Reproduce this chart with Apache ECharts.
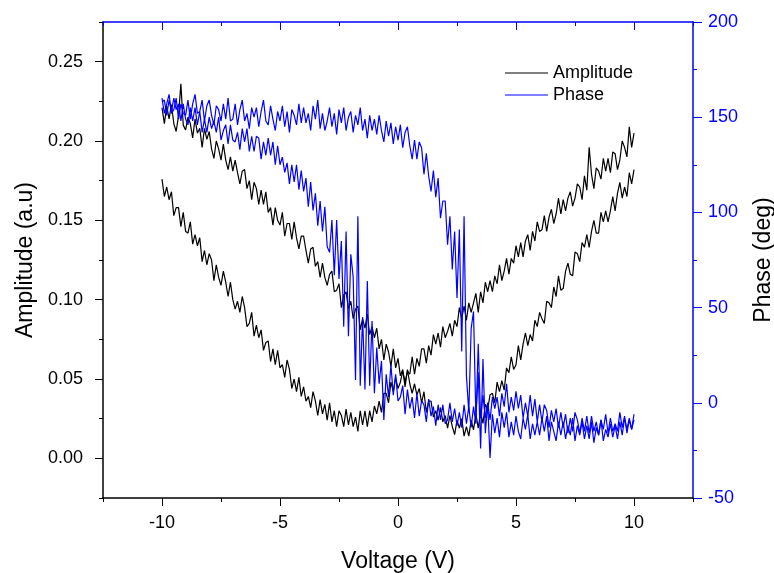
<!DOCTYPE html>
<html>
<head>
<meta charset="utf-8">
<script src="https://cdn.jsdelivr.net/npm/echarts@6/dist/echarts.min.js"></script>
<style>
  html, body { margin: 0; background: #fff; }
  #chart { width: 774px; height: 573px; }
</style>
</head>
<body>
<div id="chart"></div>
<script>
// voltage sweep points (V)
const voltage = [
  -10,-9.9,-9.8,-9.7,-9.6,-9.5,-9.4,-9.3,-9.2,-9.1,
  -9,-8.9,-8.8,-8.7,-8.6,-8.5,-8.4,-8.3,-8.2,-8.1,
  -8,-7.9,-7.8,-7.7,-7.6,-7.5,-7.4,-7.3,-7.2,-7.1,
  -7,-6.9,-6.8,-6.7,-6.6,-6.5,-6.4,-6.3,-6.2,-6.1,
  -6,-5.9,-5.8,-5.7,-5.6,-5.5,-5.4,-5.3,-5.2,-5.1,
  -5,-4.9,-4.8,-4.7,-4.6,-4.5,-4.4,-4.3,-4.2,-4.1,
  -4,-3.9,-3.8,-3.7,-3.6,-3.5,-3.4,-3.3,-3.2,-3.1,
  -3,-2.9,-2.8,-2.7,-2.6,-2.5,-2.4,-2.3,-2.2,-2.1,
  -2,-1.9,-1.8,-1.7,-1.6,-1.5,-1.4,-1.3,-1.2,-1.1,
  -1,-0.9,-0.8,-0.7,-0.6,-0.5,-0.4,-0.3,-0.2,-0.1,
  0,0.1,0.2,0.3,0.4,0.5,0.6,0.7,0.8,0.9,
  1,1.1,1.2,1.3,1.4,1.5,1.6,1.7,1.8,1.9,
  2,2.1,2.2,2.3,2.4,2.5,2.6,2.7,2.8,2.9,
  3,3.1,3.2,3.3,3.4,3.5,3.6,3.7,3.8,3.9,
  4,4.1,4.2,4.3,4.4,4.5,4.6,4.7,4.8,4.9,
  5,5.1,5.2,5.3,5.4,5.5,5.6,5.7,5.8,5.9,
  6,6.1,6.2,6.3,6.4,6.5,6.6,6.7,6.8,6.9,
  7,7.1,7.2,7.3,7.4,7.5,7.6,7.7,7.8,7.9,
  8,8.1,8.2,8.3,8.4,8.5,8.6,8.7,8.8,8.9,
  9,9.1,9.2,9.3,9.4,9.5,9.6,9.7,9.8,9.9,
  10];

// amplitude (a.u), sweep -10 -> +10
const ampForward = [
  .221,.211,.222,.214,.223,.211,.206,.216,.236,.210,
  .207,.215,.211,.202,.214,.205,.208,.196,.208,.201,
  .206,.195,.189,.200,.195,.188,.198,.188,.182,.190,
  .181,.188,.180,.173,.181,.182,.170,.175,.163,.174,
  .170,.160,.169,.160,.168,.155,.158,.147,.158,.150,
  .147,.155,.140,.148,.148,.138,.149,.139,.132,.140,
  .140,.131,.123,.132,.133,.121,.124,.114,.123,.114,
  .109,.116,.118,.105,.106,.110,.095,.103,.105,.094,
  .099,.088,.094,.096,.081,.088,.082,.091,.078,.083,
  .076,.082,.069,.075,.062,.072,.067,.058,.069,.057,
  .063,.052,.056,.045,.056,.047,.041,.047,.040,.044,
  .035,.042,.029,.036,.036,.026,.030,.024,.032,.023,
  .027,.019,.027,.020,.015,.024,.019,.025,.014,.020,
  .014,.024,.018,.028,.019,.029,.022,.034,.031,.040,
  .041,.035,.048,.042,.049,.043,.057,.054,.064,.056,
  .059,.071,.062,.072,.079,.071,.078,.074,.087,.083,
  .092,.088,.085,.099,.098,.095,.108,.102,.115,.106,
  .107,.118,.123,.116,.115,.130,.129,.124,.136,.133,
  .141,.133,.143,.150,.142,.142,.155,.149,.156,.149,
  .156,.165,.156,.167,.174,.164,.171,.165,.180,.173,
  .182];

// amplitude (a.u), sweep +10 -> -10 (listed from +10 down)
const ampReverse = [
  .205,.196,.209,.190,.196,.200,.188,.182,.192,.193,
  .180,.189,.181,.189,.176,.181,.183,.170,.179,.196,
  .169,.178,.163,.171,.173,.164,.159,.168,.164,.156,
  .163,.154,.164,.154,.148,.157,.152,.143,.153,.144,
  .143,.149,.137,.143,.131,.141,.137,.127,.136,.127,
  .134,.123,.126,.116,.126,.118,.112,.122,.110,.115,
  .105,.112,.105,.111,.098,.105,.092,.104,.098,.092,
  .098,.087,.096,.088,.095,.083,.087,.077,.085,.080,
  .076,.083,.070,.079,.072,.078,.065,.071,.060,.069,
  .069,.058,.063,.053,.064,.053,.055,.048,.055,.048,
  .044,.051,.042,.048,.035,.041,.041,.029,.036,.028,
  .033,.023,.030,.020,.030,.021,.030,.017,.026,.020,
  .029,.021,.031,.020,.027,.030,.020,.030,.023,.035,
  .024,.034,.028,.037,.027,.036,.042,.032,.039,.036,
  .045,.039,.051,.042,.050,.044,.056,.062,.051,.059,
  .057,.068,.059,.069,.061,.074,.073,.068,.081,.076,
  .084,.077,.092,.085,.083,.095,.102,.092,.099,.094,
  .100,.111,.102,.111,.118,.109,.114,.122,.112,.125,
  .129,.122,.131,.124,.139,.134,.141,.135,.149,.142,
  .143,.155,.146,.158,.158,.153,.168,.163,.171,.165,
  .176];

// phase (deg), sweep -10 -> +10
const phaseForward = [
  160,152,157,162,152,154,160,149,157,152,
  151,159,149,157,162,152,153,159,148,156,
  159,151,146,156,154,148,157,149,160,148,
  149,157,146,154,159,148,152,144,155,150,
  155,145,153,159,148,146,156,149,143,153,
  148,156,145,153,142,154,151,146,157,147,
  155,147,152,143,156,149,159,144,152,143,
  148,155,145,152,141,154,147,155,143,150,
  153,142,151,146,155,143,149,139,151,143,
  149,141,151,143,137,148,140,147,136,145,
  138,146,134,142,145,135,128,138,128,137,
  134,120,131,119,111,122,108,118,97,106,
  106,83,98,70,90,55,91,27,98,14,
  -5,39,48,-8,16,-24,23,-16,0,-29,
  -6,-16,-8,-18,-5,-13,-5,-18,-10,-17,
  -7,-15,-19,-8,-14,-6,-19,-11,-17,-10,
  -17,-8,-15,-7,-20,-10,-15,-20,-10,-17,
  -10,-19,-12,-17,-8,-20,-12,-17,-10,-19,
  -12,-19,-10,-21,-13,-17,-9,-20,-14,-18,
  -11,-18,-12,-19,-10,-17,-8,-14,-8,-14,
  -9];

// phase (deg), sweep +10 -> -10 (listed from +10 down)
const phaseReverse = [
  -6,-14,-9,-16,-7,-13,-5,-15,-11,-15,
  -8,-16,-6,-14,-9,-17,-10,-15,-7,-16,
  -7,-15,-8,-16,-9,-5,-15,-8,-16,-6,
  -13,-5,-13,-3,-10,-4,-13,-4,-1,-10,
  -1,-10,2,-7,4,-7,0,-8,4,-3,
  6,-4,3,-5,10,-2,5,-7,3,-3,
  3,-9,0,-8,4,-8,31,-11,-2,-13,
  -2,-11,-1,-13,-5,-12,-3,-10,0,-9,
  -11,-1,-9,-1,-12,-2,-7,2,-10,-1,
  1,-7,5,-8,3,-3,7,-6,9,3,
  1,15,4,20,3,15,-9,22,10,29,
  5,43,9,64,7,45,9,98,12,66,
  78,35,90,40,85,65,96,67,96,79,
  82,103,90,106,93,110,101,116,103,118,
  111,122,112,125,116,125,115,126,121,129,
  125,135,125,137,130,139,130,137,128,139,
  140,132,140,132,144,137,144,133,142,137,
  138,146,136,146,143,138,150,142,148,144,
  150,142,149,142,153,146,155,148,155,146,
  149,157,148,157,154,160,153,159,151,159,
  158];

const xMajorTicks = [-10, -5, 0, 5, 10];
const xMinorTicks = [-12.5, -7.5, -2.5, 2.5, 7.5, 12.5];
const ampMajorTicks = [0, 0.05, 0.1, 0.15, 0.2, 0.25];
const ampMinorTicks = [-0.025, 0.025, 0.075, 0.125, 0.175, 0.225, 0.275];

const FONT = 'Liberation Sans, Arial, sans-serif';
const BLUE = '#0000ff';

const voltageBack = voltage.slice().reverse();
const pairs = (xs, ys) => xs.map((x, i) => [x, ys[i]]);

// bare axis used only to draw an extra set of ticks
const tickAxis = (pos, values, len, inside, color, extra) => Object.assign({
  type: 'value',
  position: pos,
  axisLine: { show: false, onZero: false },
  axisTick: { show: true, inside: inside, length: len, customValues: values, lineStyle: { color: color, width: 1 } },
  axisLabel: { show: false },
  splitLine: { show: false }
}, extra);

const lineSeries = (name, color, yIdx, xs, ys) => ({
  name: name, type: 'line', xAxisIndex: 0, yAxisIndex: yIdx,
  symbol: 'none', showSymbol: false,
  lineStyle: { color: color, width: 1.2 }, itemStyle: { color: color },
  data: pairs(xs, ys)
});

const chart = echarts.init(document.getElementById('chart'));

chart.setOption({
  animation: false,
  backgroundColor: '#fff',
  textStyle: { fontFamily: FONT },
  grid: { left: 103, right: 81, top: 22, bottom: 75, outerBoundsMode: 'none', containLabel: false },
  legend: {
    orient: 'vertical',
    left: 500,
    top: 59,
    icon: 'rect',
    itemWidth: 43,
    itemHeight: 1,
    itemGap: 4,
    textStyle: { fontSize: 18, color: '#000', fontFamily: FONT },
    data: ['Amplitude', 'Phase']
  },
  xAxis: [
    {
      type: 'value',
      position: 'bottom',
      min: -12.5,
      max: 12.5,
      name: 'Voltage (V)',
      nameLocation: 'middle',
      nameGap: 52,
      nameTextStyle: { fontSize: 23, color: '#000', fontFamily: FONT },
      axisLine: { onZero: false, lineStyle: { color: '#000', width: 1.5 } },
      axisTick: { inside: false, length: 8, customValues: xMajorTicks, lineStyle: { color: '#000', width: 1 } },
      axisLabel: { customValues: xMajorTicks, fontSize: 18, color: '#000', margin: 16, fontFamily: FONT },
      splitLine: { show: false }
    },
    tickAxis('bottom', xMinorTicks, 4, false, '#000', { min: -12.5, max: 12.5 }),
    tickAxis('top', xMajorTicks, 8, true, BLUE, {
      min: -12.5, max: 12.5,
      axisLine: { show: true, onZero: false, lineStyle: { color: BLUE, width: 1.5 } }
    }),
    tickAxis('top', xMinorTicks, 4, true, BLUE, { min: -12.5, max: 12.5 })
  ],
  yAxis: [
    {
      type: 'value',
      position: 'left',
      min: -0.025,
      max: 0.275,
      name: 'Amplitude (a.u)',
      nameLocation: 'middle',
      nameGap: 62,
      nameTextStyle: { fontSize: 23, color: '#000', fontFamily: FONT },
      axisLine: { show: true, onZero: false, lineStyle: { color: '#000', width: 1.5 } },
      axisTick: { show: true, inside: false, length: 8, customValues: ampMajorTicks, lineStyle: { color: '#000', width: 1 } },
      axisLabel: {
        customValues: ampMajorTicks, fontSize: 18, color: '#000', margin: 20, fontFamily: FONT,
        formatter: v => v.toFixed(2)
      },
      splitLine: { show: false }
    },
    tickAxis('left', ampMinorTicks, 4, false, '#000', { min: -0.025, max: 0.275 }),
    {
      type: 'value',
      position: 'right',
      min: -50,
      max: 200,
      interval: 50,
      name: 'Phase (deg)',
      nameLocation: 'middle',
      nameGap: 59,
      nameTextStyle: { fontSize: 23, color: '#000', fontFamily: FONT },
      axisLine: { show: true, onZero: false, lineStyle: { color: BLUE, width: 1.5 } },
      axisTick: { show: true, inside: false, length: 9, lineStyle: { color: BLUE, width: 1 } },
      minorTick: { show: true, splitNumber: 2, length: 4, lineStyle: { color: BLUE, width: 1 } },
      axisLabel: { fontSize: 18, color: BLUE, margin: 15, fontFamily: FONT },
      splitLine: { show: false }
    }
  ],
  series: [
    lineSeries('Amplitude', '#000', 0, voltage, ampForward),
    lineSeries('Amplitude', '#000', 0, voltageBack, ampReverse),
    lineSeries('Phase', BLUE, 2, voltage, phaseForward),
    lineSeries('Phase', BLUE, 2, voltageBack, phaseReverse)
  ]
});
</script>
</body>
</html>
